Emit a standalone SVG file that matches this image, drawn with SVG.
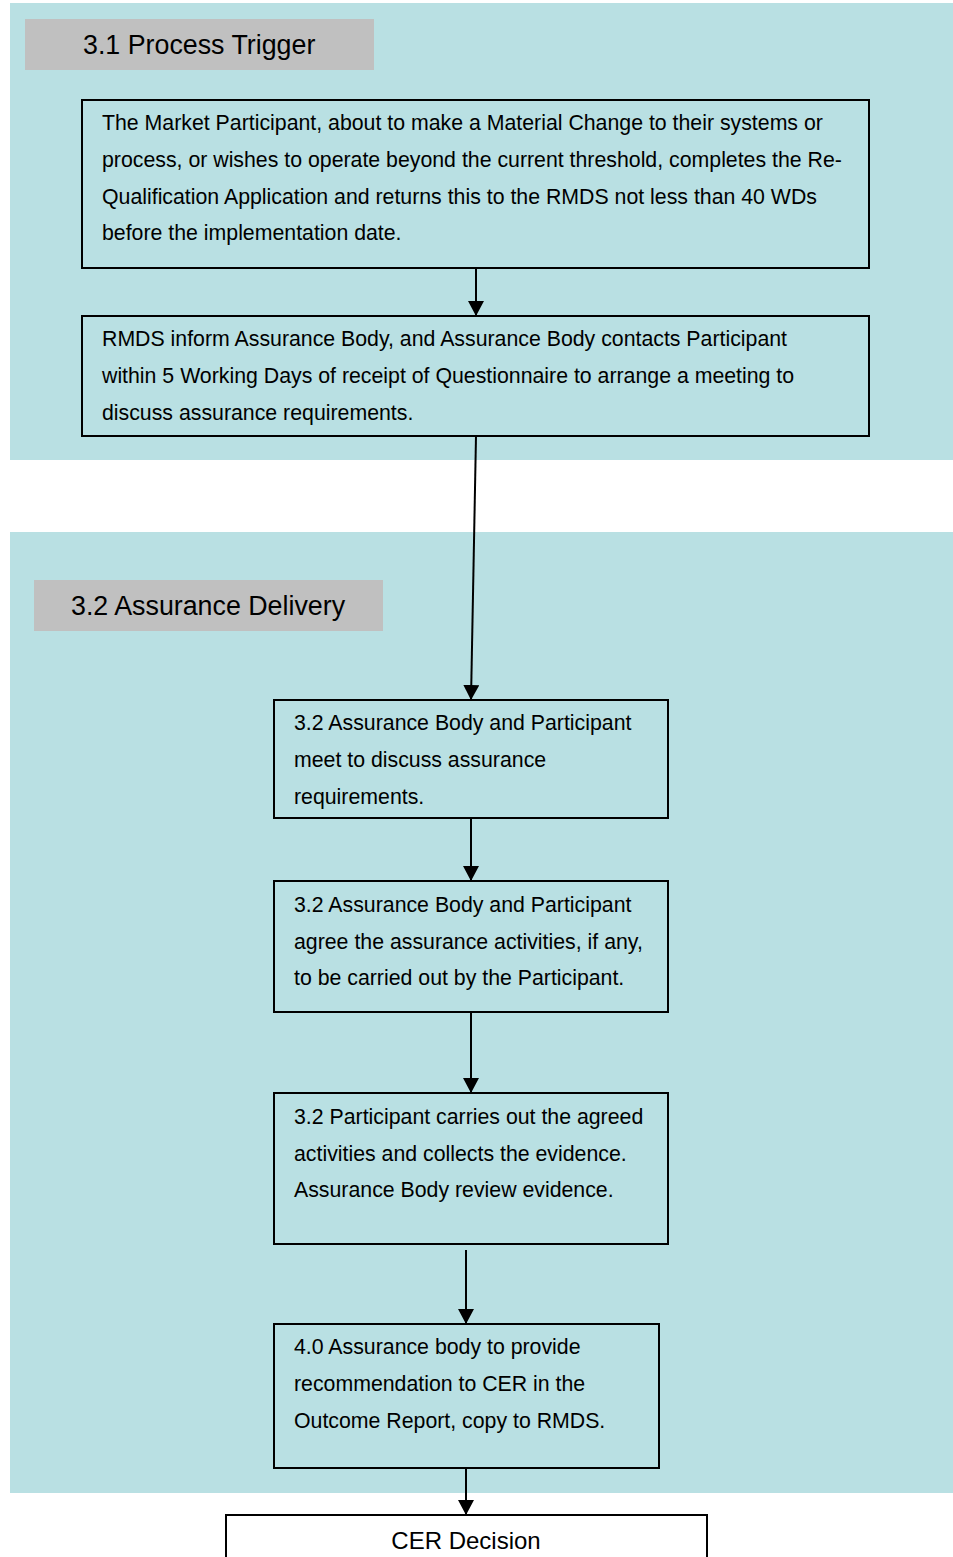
<svg xmlns="http://www.w3.org/2000/svg" width="953" height="1557" viewBox="0 0 953 1557">
<style>
.panel{fill:#b9e0e3}
.hdr{fill:#c0c0c0}
.box{fill:#b9e0e3;stroke:#000;stroke-width:2}
.wbox{fill:#fff;stroke:#000;stroke-width:2}
text{font-family:"Liberation Sans",Arial,sans-serif;fill:#000}
.t{font-size:21.3px}
.h{font-size:26.8px}
.c{stroke:#000;stroke-width:2;fill:none;marker-end:url(#ah)}
</style>
<defs>
<marker id="ah" markerWidth="16" markerHeight="16" refX="15" refY="8" orient="auto" markerUnits="userSpaceOnUse">
<path d="M0,0 L15,8 L0,16 Z" fill="#000"/>
</marker>
</defs>
<rect width="953" height="1557" fill="#fff"/>
<g id="panel1"><rect class="panel" x="10" y="3" width="943" height="457"/></g>
<g id="panel2"><rect class="panel" x="10" y="532" width="943" height="961"/></g>
<g id="hdr1"><rect class="hdr" x="25" y="19" width="349" height="51"/><text class="h" x="83" y="54">3.1 Process Trigger</text></g>
<g id="hdr2"><rect class="hdr" x="34" y="580" width="349" height="51"/><text class="h" x="71" y="615">3.2 Assurance Delivery</text></g>
<g id="n1"><rect class="box" x="82" y="100" width="787" height="168"/>
<text class="t" x="102" y="130">The Market Participant, about to make a Material Change to their systems or</text>
<text class="t" x="102" y="167">process, or wishes to operate beyond the current threshold, completes the Re-</text>
<text class="t" x="102" y="204">Qualification Application and returns this to the RMDS not less than 40 WDs</text>
<text class="t" x="102" y="240">before the implementation date.</text></g>
<g id="n2"><rect class="box" x="82" y="316" width="787" height="120"/>
<text class="t" x="102" y="346">RMDS inform Assurance Body, and Assurance Body contacts Participant</text>
<text class="t" x="102" y="383">within 5 Working Days of receipt of Questionnaire to arrange a meeting to</text>
<text class="t" x="102" y="420">discuss assurance requirements.</text></g>
<g id="n3"><rect class="box" x="274" y="700" width="394" height="118"/>
<text class="t" x="294" y="730">3.2 Assurance Body and Participant</text>
<text class="t" x="294" y="767">meet to discuss assurance</text>
<text class="t" x="294" y="804">requirements.</text></g>
<g id="n4"><rect class="box" x="274" y="881" width="394" height="131"/>
<text class="t" x="294" y="912">3.2 Assurance Body and Participant</text>
<text class="t" x="294" y="949">agree the assurance activities, if any,</text>
<text class="t" x="294" y="985">to be carried out by the Participant.</text></g>
<g id="n5"><rect class="box" x="274" y="1093" width="394" height="151"/>
<text class="t" x="294" y="1124">3.2 Participant carries out the agreed</text>
<text class="t" x="294" y="1161">activities and collects the evidence.</text>
<text class="t" x="294" y="1197">Assurance Body review evidence.</text></g>
<g id="n6"><rect class="box" x="274" y="1324" width="385" height="144"/>
<text class="t" x="294" y="1354">4.0 Assurance body to provide</text>
<text class="t" x="294" y="1391">recommendation to CER in the</text>
<text class="t" x="294" y="1428">Outcome Report, copy to RMDS.</text></g>
<g id="n7"><rect class="wbox" x="226" y="1515" width="481" height="50"/>
<text x="466" y="1549" font-size="24" text-anchor="middle">CER Decision</text></g>
<g id="connectors">
<path class="c" d="M476,268 L476,316"/>
<path class="c" d="M476,436 L471,700"/>
<path class="c" d="M471,818 L471,881"/>
<path class="c" d="M471,1012 L471,1093"/>
<path class="c" d="M466,1250 L466,1324"/>
<path class="c" d="M466,1468 L466,1515"/>
</g>
</svg>
